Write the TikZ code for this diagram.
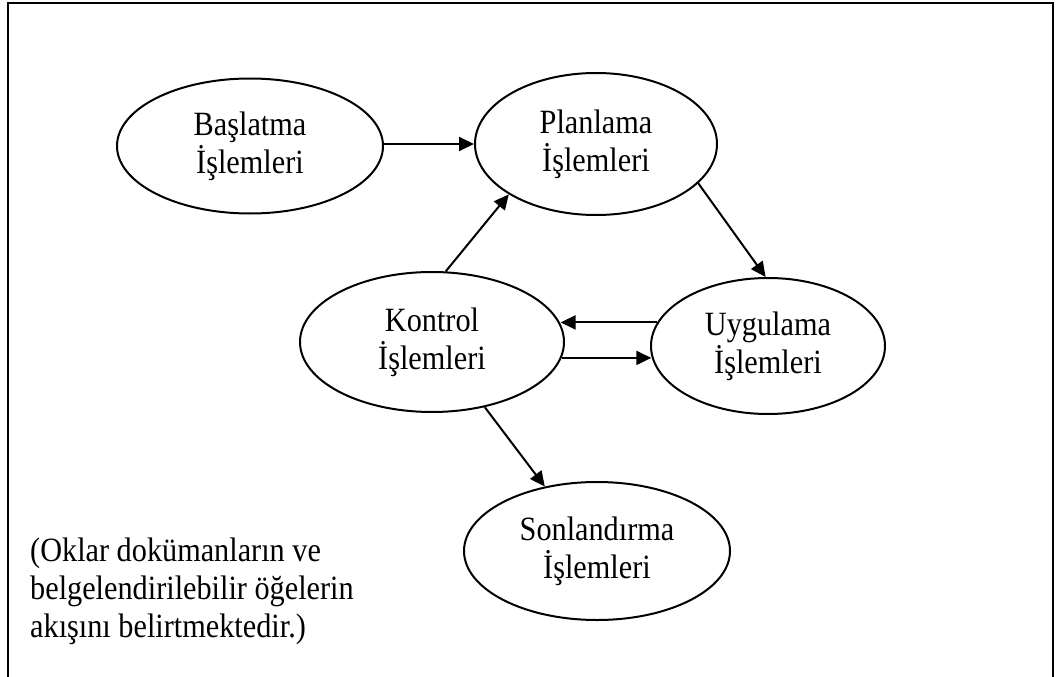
\documentclass[tikz,border=0pt]{standalone}
\usepackage{fontspec}
\setmainfont{Liberation Serif}[FakeStretch=0.89]
\usetikzlibrary{shapes.geometric,arrows.meta}
\begin{document}
\begin{tikzpicture}[x=1pt,y=-1pt,
  proc/.style={ellipse,draw,line width=2pt,inner sep=0pt,align=center,
    font=\fontsize{34}{38}\selectfont},
  flow/.style={line width=2pt,-{Triangle[length=15pt,width=14pt]}}]
\useasboundingbox (0,0) rectangle (1058,677);
% outer frame, open at the bottom edge of the page
\begin{scope}
  \clip (0,0) rectangle (1058,677);
  \draw[line width=2.2pt] (8,3) rectangle (1053,700);
\end{scope}

% process groups
\node[proc,minimum width=266pt,minimum height=135pt] (bas) at (250,146) {Başlatma\\İşlemleri};
\node[proc,minimum width=242pt,minimum height=142pt] (plan) at (596,144) {Planlama\\İşlemleri};
\node[proc,minimum width=264pt,minimum height=140pt] (kon) at (432,342) {Kontrol\\İşlemleri};
\node[proc,minimum width=234pt,minimum height=136pt] (uyg) at (768,346) {Uygulama\\İşlemleri};
\node[proc,minimum width=266pt,minimum height=138pt] (son) at (597,551) {Sonlandırma\\İşlemleri};

% flows between the groups
\draw[flow] (bas.east |- plan.west) -- (plan.west);
\draw[flow] (kon.79) -- (plan.210);
\draw[flow] (plan.339) -- (uyg.92);
\draw[flow] (uyg.168) -- (uyg.168 -| kon.8.5);
\draw[flow] (kon.353.4) -- (kon.353.4 -| uyg.185.4);
\draw[flow] (kon.309) -- (son.129);

% note
\node[anchor=base west,align=left,inner sep=0pt,
  font=\fontsize{34}{38}\selectfont] (note) at (30,637)
  {(Oklar dokümanların ve\\belgelendirilebilir öğelerin\\akışını belirtmektedir.)};
\end{tikzpicture}
\end{document}
